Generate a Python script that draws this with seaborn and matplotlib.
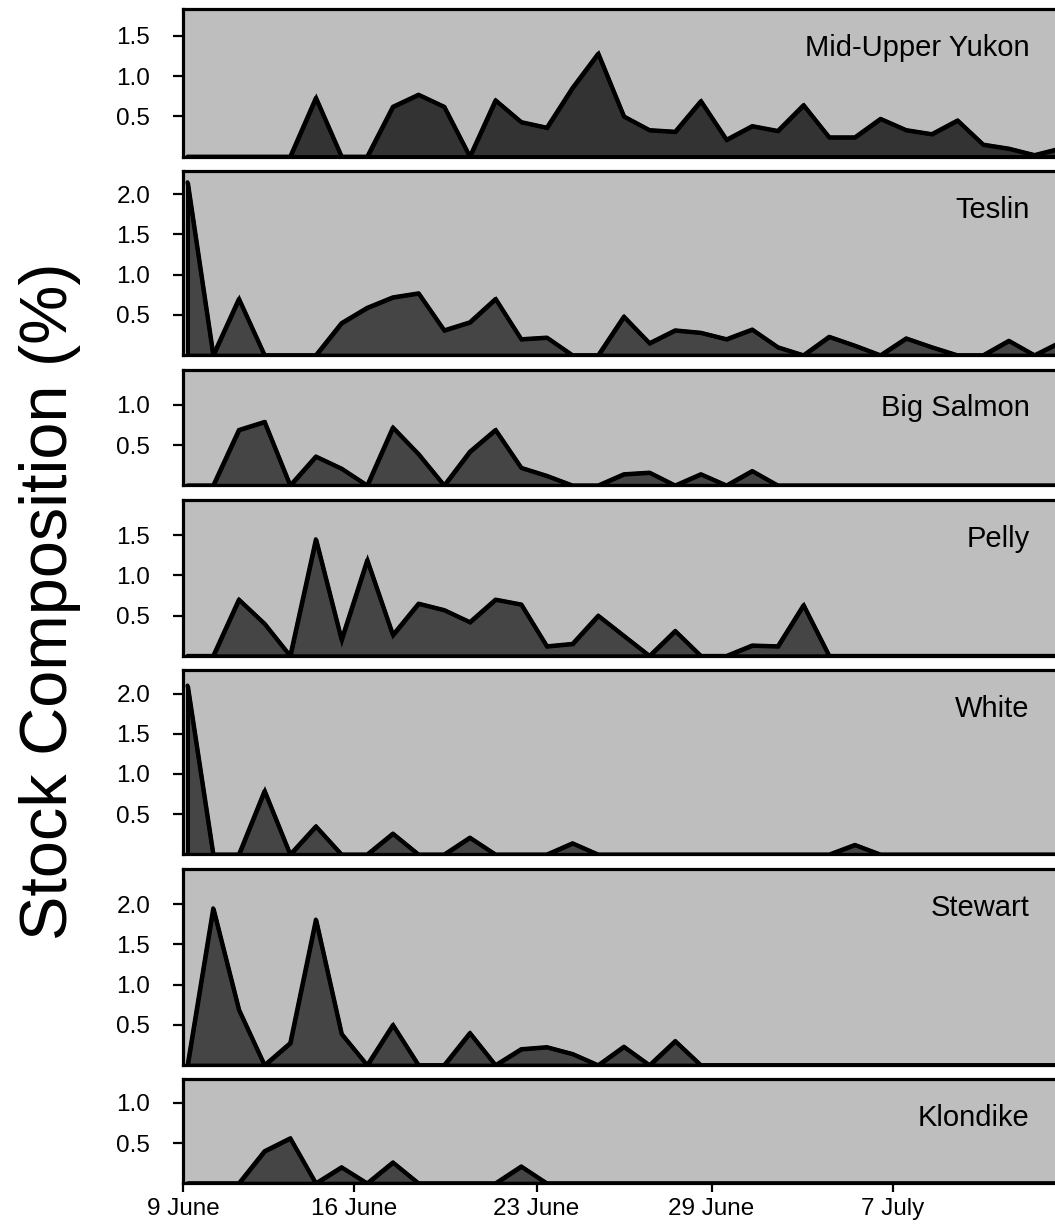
import matplotlib
matplotlib.use("Agg")
import matplotlib.pyplot as plt
import numpy as np
import pandas as pd
import seaborn as sns

# sample index along the season (evenly spaced collections)
sample = np.arange(35)

mid_upper_yukon = [0, 0, 0, 0, 0, 0.73, 0, 0, 0.62, 0.77, 0.62, 0, 0.70, 0.43, 0.36, 0.855,
                   1.28, 0.50, 0.33, 0.31, 0.69, 0.21, 0.38, 0.32, 0.64, 0.24, 0.24, 0.47,
                   0.33, 0.28, 0.45, 0.15, 0.10, 0.02, 0.10]
teslin = [2.15, 0, 0.70, 0, 0, 0, 0.40, 0.59, 0.72, 0.77, 0.31, 0.41, 0.70, 0.20, 0.22, 0,
          0, 0.48, 0.15, 0.31, 0.28, 0.20, 0.32, 0.10, 0, 0.23, 0.12, 0, 0.21, 0.10, 0, 0,
          0.18, 0, 0.16]
big_salmon = [0, 0, 0.69, 0.79, 0, 0.36, 0.21, 0, 0.72, 0.39, 0, 0.42, 0.69, 0.22, 0.12, 0,
              0, 0.14, 0.16, 0, 0.14, 0, 0.18, 0, 0, 0, 0, 0, 0, 0, 0, 0, 0, 0, 0]
pelly = [0, 0, 0.70, 0.40, 0, 1.45, 0.20, 1.19, 0.26, 0.65, 0.57, 0.42, 0.70, 0.64, 0.12,
         0.15, 0.50, 0.25, 0, 0.31, 0, 0, 0.13, 0.12, 0.63, 0, 0, 0, 0, 0, 0, 0, 0, 0, 0]
white = [2.10, 0, 0, 0.79, 0, 0.35, 0, 0, 0.26, 0, 0, 0.21, 0, 0, 0, 0.14, 0, 0, 0, 0, 0,
         0, 0, 0, 0, 0, 0.12, 0, 0, 0, 0, 0, 0, 0, 0]
stewart = [0, 1.95, 0.69, 0, 0.275, 1.81, 0.39, 0, 0.50, 0, 0, 0.40, 0, 0.20, 0.225, 0.14,
           0, 0.23, 0, 0.30, 0, 0, 0, 0, 0, 0, 0, 0, 0, 0, 0, 0, 0, 0, 0]
klondike = [0, 0, 0, 0.40, 0.56, 0, 0.20, 0, 0.26, 0, 0, 0, 0, 0.21, 0, 0, 0, 0, 0, 0, 0,
            0, 0, 0, 0, 0, 0, 0, 0, 0, 0, 0, 0, 0, 0]

stocks = ["Mid-Upper Yukon", "Teslin", "Big Salmon", "Pelly", "White", "Stewart", "Klondike"]
series = [mid_upper_yukon, teslin, big_salmon, pelly, white, stewart, klondike]
y_top = [1.83, 2.29, 1.44, 1.94, 2.29, 2.44, 1.29]
y_ticks = [[0.5, 1.0, 1.5], [0.5, 1.0, 1.5, 2.0], [0.5, 1.0], [0.5, 1.0, 1.5],
           [0.5, 1.0, 1.5, 2.0], [0.5, 1.0, 1.5, 2.0], [0.5, 1.0]]
fill_colors = ["#333333", "#454545", "#454545", "#454545", "#454545", "#454545", "#454545"]

date_pos = [-0.175, 6.5, 13.6, 20.42, 27.47]
date_labels = ["9 June", "16 June", "23 June", "29 June", "7 July"]

sns.set_style("ticks")
plt.rcParams["font.family"] = ["Liberation Sans", "DejaVu Sans"]
plt.rcParams["text.color"] = "black"
plt.rcParams["xtick.color"] = "black"
plt.rcParams["ytick.color"] = "black"
plt.rcParams["xtick.labelcolor"] = "black"
plt.rcParams["ytick.labelcolor"] = "black"

fig = plt.figure(figsize=(10.55, 12.24), dpi=100)
gs = fig.add_gridspec(7, 1, height_ratios=y_top, hspace=0.092,
                      left=183 / 1055, right=1.0, top=1 - 9.3 / 1224, bottom=1 - 1183.3 / 1224)

for k, (name, vals) in enumerate(zip(stocks, series)):
    ax = fig.add_subplot(gs[k])
    ax.set_facecolor("#BEBEBE")
    df = pd.DataFrame({"sample": sample, "pct": vals})
    ax.fill_between(df["sample"], df["pct"], 0, facecolor=fill_colors[k],
                    edgecolor="black", linewidth=2.9, joinstyle="miter", zorder=2)
    sns.lineplot(data=df, x="sample", y="pct", ax=ax, color="black", linewidth=2.9,
                 zorder=3)
    ax.set_xlim(-0.175, 33.8)
    ax.set_ylim(0, y_top[k])
    ax.set_yticks(y_ticks[k])
    ax.set_yticklabels([f"{t:.1f}" for t in y_ticks[k]])
    ax.set_xlabel("")
    ax.set_ylabel("")
    for s in ["left", "top", "bottom"]:
        ax.spines[s].set_linewidth(2.3)
        ax.spines[s].set_color("black")
    ax.spines["right"].set_visible(False)
    ax.tick_params(axis="y", length=7.5, width=1.6, pad=16, labelsize=17.5)
    if k == len(stocks) - 1:
        ax.set_xticks(date_pos)
        ax.set_xticklabels(date_labels)
        ax.tick_params(axis="x", length=6.5, width=1.6, pad=4, labelsize=17.5)
    else:
        ax.set_xticks([])
    ax.annotate(name, xy=(0.971, 1), xycoords="axes fraction", xytext=(0, -28),
                textcoords="offset points", ha="right", va="center", fontsize=21,
                color="black")

fig.text(50 / 1055, 1 - 601 / 1224, "Stock Composition (%)", rotation=90,
         ha="center", va="center", fontsize=48, color="black")

fig.savefig("out.png", dpi=100)
